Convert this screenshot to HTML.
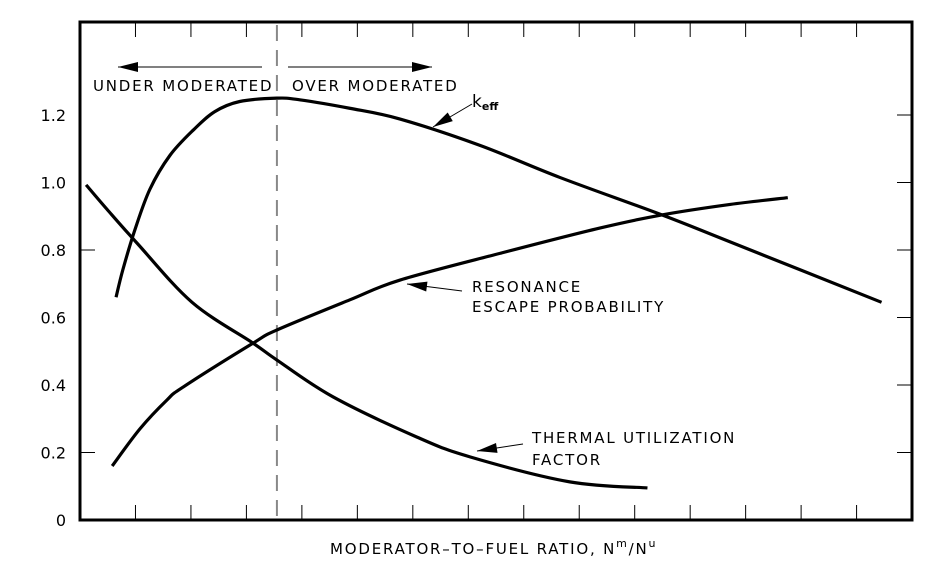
<!DOCTYPE html>
<html><head><meta charset="utf-8"><style>
body{margin:0;background:#fff}
svg{display:block;font-family:"DejaVu Sans","Liberation Sans",sans-serif}
</style></head><body>
<svg id="c" width="937" height="572">
<rect x="0" y="0" width="937" height="572" fill="#fff"/>
<g id="g"></g>
</svg>
<script>
const yTicks=[0,0.2,0.4,0.6,0.8,1.0,1.2];
const yTickLabels=["0","0.2","0.4","0.6","0.8","1.0","1.2"];
const xTicks=[1,2,3,4,5,6,7,8,9,10,11,12,13,14];
const keffX=[0.65,0.77,0.99,1.26,1.62,2.04,2.43,2.88,3.55,3.96,4.86,5.77,7.21,8.65,10.49,11.72,14.45];
const keffY=[0.66,0.74,0.86,0.98,1.08,1.155,1.21,1.24,1.25,1.245,1.22,1.188,1.11,1.015,0.904,0.824,0.645];
const resX=[0.58,1.08,1.57,1.86,3.12,3.55,4.86,5.77,7.57,9.37,10.49,11.72,12.76];
const resY=[0.16,0.27,0.356,0.394,0.524,0.563,0.652,0.711,0.79,0.865,0.904,0.935,0.955];
const thX=[0.11,0.49,1.03,2.02,3.12,3.55,4.56,6.07,7.03,8.83,10.23];
const thY=[0.993,0.92,0.82,0.645,0.524,0.474,0.365,0.246,0.187,0.113,0.095];
const dividerX=3.55;
const L=80,R=912,T=22,B=520;
const sx=v=>L+v*55.47, sy=v=>B-v*337.5;
const ns="http://www.w3.org/2000/svg", g=document.getElementById('g');
function mk(t,a,txt){const e=document.createElementNS(ns,t);for(const k in a)e.setAttribute(k,a[k]);if(txt!==undefined)e.textContent=txt;g.appendChild(e);return e;}
function smooth(xs,ys){const p=xs.map((x,i)=>[sx(x),sy(ys[i])]);let d="M"+p[0][0]+","+p[0][1];
for(let i=0;i<p.length-1;i++){const p0=p[i-1]||p[i],p1=p[i],p2=p[i+1],p3=p[i+2]||p2;
d+=" C"+(p1[0]+(p2[0]-p0[0])/6)+","+(p1[1]+(p2[1]-p0[1])/6)+" "+(p2[0]-(p3[0]-p1[0])/6)+","+(p2[1]-(p3[1]-p1[1])/6)+" "+p2[0]+","+p2[1];}return d;}
let e;
e=mk('rect',{x:L,y:T,width:R-L,height:B-T,fill:'none',stroke:'#000','stroke-width':3});

xTicks.forEach(t=>{
 e=mk('line',{x1:sx(t),x2:sx(t),y1:B,y2:B-15,stroke:'#000','stroke-width':1});
 
 e=mk('line',{x1:sx(t),x2:sx(t),y1:T,y2:T+15,stroke:'#000','stroke-width':1});
 
});
yTicks.forEach((t,i)=>{
 e=mk('text',{x:66,y:sy(t)+6,'text-anchor':'end','font-size':16,fill:'#000'},yTickLabels[i]);
 
 if(t>0){e=mk('line',{x1:R-15,x2:R,y1:sy(t),y2:sy(t),stroke:'#000','stroke-width':1});
 }
});
[0.2,0.8].forEach(t=>{e=mk('line',{x1:L,x2:L+15,y1:sy(t),y2:sy(t),stroke:'#000','stroke-width':1});
 });
e=mk('line',{x1:sx(dividerX),x2:sx(dividerX),y1:T+3,y2:B,stroke:'#888','stroke-width':2,'stroke-dasharray':'16,9'});

[[keffX,keffY,'keff-curve'],[resX,resY,'resonance-escape-curve'],[thX,thY,'thermal-utilization-curve']].forEach(s=>{
 e=mk('path',{d:smooth(s[0],s[1]),fill:'none',stroke:'#000','stroke-width':3.2});
 
});
function arrow(x1,y1,x2,y2,name){
 e=mk('line',{x1:x1,y1:y1,x2:x2,y2:y2,stroke:'#000','stroke-width':1});
 
 const a=Math.atan2(y2-y1,x2-x1),l=20,w=5;
 const bx=x2-l*Math.cos(a),by=y2-l*Math.sin(a);
 e=mk('polygon',{points:`${x2},${y2} ${bx-w*Math.sin(a)},${by+w*Math.cos(a)} ${bx+w*Math.sin(a)},${by-w*Math.cos(a)}`,fill:'#000'});
 
}
arrow(262,67,118,67,'under-moderated-arrow');
arrow(288,67,432,67,'over-moderated-arrow');
arrow(472,104,433,127,'keff-pointer');
arrow(462,291,407,284,'resonance-pointer');
arrow(523,444,477,451,'thermal-pointer');
function txt(x,y,s,name,fs){e=mk('text',{x:x,y:y,'font-size':fs||15,'letter-spacing':1.8,fill:'#000'},s);
 return e;}
txt(93,91,'UNDER MODERATED','under-moderated-label');
txt(292,91,'OVER MODERATED','over-moderated-label');
e=mk('text',{x:472,y:107,'font-size':17,fill:'#000'});
e.innerHTML='k<tspan font-size="11" font-weight="bold" dy="3">eff</tspan>';
txt(472,292,'RESONANCE','resonance-label-1');
txt(472,312,'ESCAPE PROBABILITY','resonance-label-2');
txt(532,443,'THERMAL UTILIZATION','thermal-label-1');
txt(532,465,'FACTOR','thermal-label-2');
e=mk('text',{x:330,y:554,'font-size':15,'letter-spacing':1.8,fill:'#000'});

e.innerHTML='MODERATOR–TO–FUEL RATIO, N<tspan font-size="11" dy="-7">m</tspan><tspan dy="7">/N</tspan><tspan font-size="11" dy="-7">u</tspan>';
</script>
</body></html>
